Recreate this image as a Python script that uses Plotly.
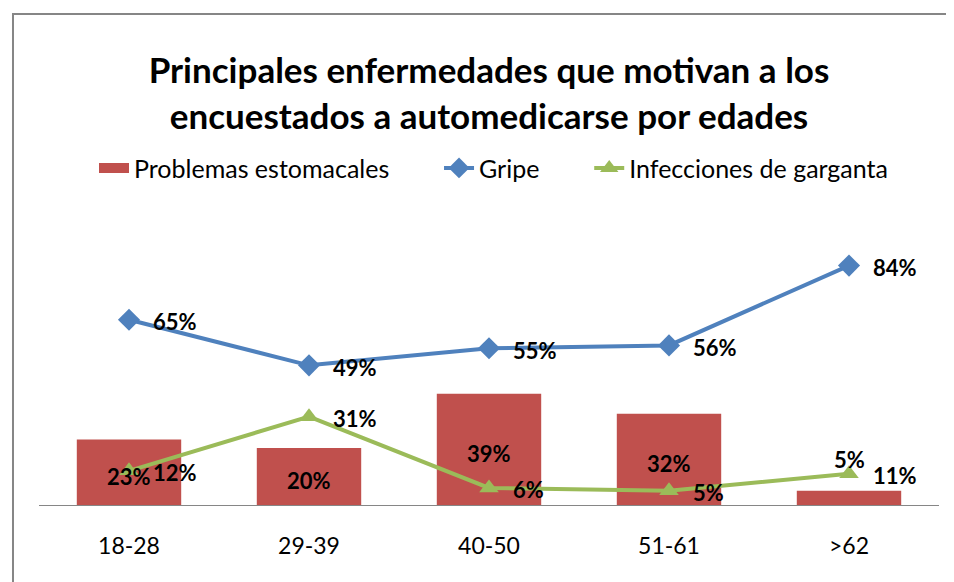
import plotly.graph_objects as go

categorias = ["18-28", "29-39", "40-50", "51-61", ">62"]
problemas_estomacales = [23, 20, 39, 32, 5]
gripe = [65, 49, 55, 56, 84]
infecciones_garganta = [12, 31, 6, 5, 11]

ROJO = "#C0504D"
AZUL = "#4F81BD"
VERDE = "#9BBB59"
FONT = "Lato"
PAD = "\u00a0" * 7

fig = go.Figure()
fig.add_trace(go.Bar(
    x=categorias, y=problemas_estomacales, name="Problemas estomacales",
    marker=dict(color=ROJO, line=dict(width=0)), showlegend=False,
))
# legend entry drawn as a wide red swatch (Excel style)
fig.add_trace(go.Scatter(
    x=[None], y=[None], mode="lines", name="Problemas estomacales" + PAD,
    line=dict(color=ROJO, width=18),
))
fig.add_trace(go.Scatter(
    x=categorias, y=gripe, name="Gripe" + PAD, mode="lines+markers",
    line=dict(color=AZUL, width=4),
    marker=dict(symbol="diamond", size=17, color=AZUL),
))
fig.add_trace(go.Scatter(
    x=categorias, y=infecciones_garganta, name="Infecciones de garganta", mode="lines+markers",
    line=dict(color=VERDE, width=4),
    marker=dict(symbol="triangle-up", size=17, color=VERDE),
))

annotations = []
lab_font = dict(family=FONT, size=22, color="black")
for c, v in zip(categorias, problemas_estomacales):
    if v >= 10:
        annotations.append(dict(x=c, y=v / 2, text=f"<b>{v}%</b>", showarrow=False,
                                font=lab_font, yshift=-4))
    else:
        annotations.append(dict(x=c, y=v, text=f"<b>{v}%</b>", showarrow=False,
                                font=lab_font, yanchor="bottom", yshift=16))
for series in (gripe, infecciones_garganta):
    for c, v in zip(categorias, series):
        annotations.append(dict(x=c, y=v, text=f"<b>{v}%</b>", showarrow=False,
                                font=lab_font, xanchor="left", xshift=22, yshift=-2))

fig.update_layout(
    width=954, height=582,
    paper_bgcolor="white", plot_bgcolor="white",
    margin=dict(l=31, r=23, t=212, b=85),
    bargap=0.42,
    title=dict(
        text="<b>Principales enfermedades que motivan a los<br>encuestados a automedicarse por edades</b>",
        x=0.5, xref="paper", xanchor="center",
        y=0.871, yref="container", yanchor="middle",
        font=dict(family=FONT, size=35, color="black"),
    ),
    legend=dict(
        orientation="h", x=0.505, xanchor="center", y=1.182, yanchor="middle",
        font=dict(family=FONT, size=25, color="black"),
        bgcolor="rgba(0,0,0,0)",
    ),
    xaxis=dict(
        showline=True, linecolor="#868686", linewidth=1, ticks="",
        tickfont=dict(family=FONT, size=23, color="black"),
        ticklabelstandoff=20,
        showgrid=False, fixedrange=True,
    ),
    yaxis=dict(range=[0, 100], visible=False, showgrid=False, fixedrange=True),
    annotations=annotations,
    shapes=[dict(type="rect", xref="paper", yref="paper",
                 x0=-0.0289, x1=1.1, y0=-0.5, y1=1.7228,
                 line=dict(color="#868686", width=2))],
)

fig.write_html("out.html")
